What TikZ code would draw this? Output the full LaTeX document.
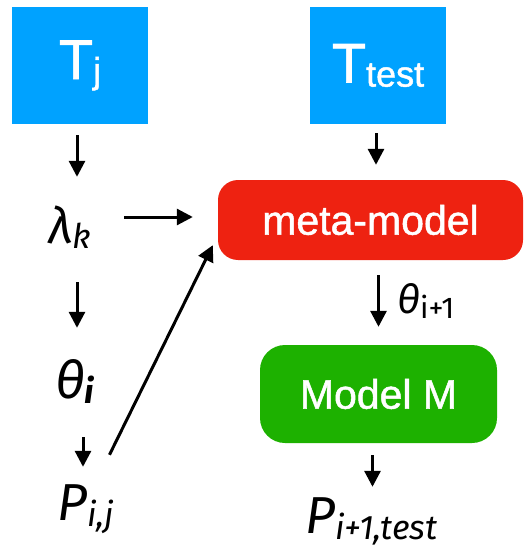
\documentclass[tikz,border=0pt]{standalone}
\usepackage{fontspec}
\setmainfont{Liberation Sans}
\newfontfamily\boxfont[FakeBold=1.2]{Liberation Sans}
\newfontfamily\mfont{Fira Sans}
\usetikzlibrary{arrows.meta,calc}
\definecolor{tblue}{HTML}{00A2FF}
\definecolor{mred}{HTML}{EE2211}
\definecolor{mgreen}{HTML}{1DB100}
\newcommand{\fs}[1]{\fontsize{#1}{#1}\selectfont}
\begin{document}
\begin{tikzpicture}[x=1pt,y=-1pt,
  arr/.style={line width=3pt,-{Triangle[width=16pt,length=16pt]}},
  tbox/.style={fill=tblue,minimum width=136pt,minimum height=117pt,inner sep=0pt,text=white,font=\boxfont},
  rbox/.style={rounded corners=#1,inner sep=0pt,text=white,font=\boxfont\fs{41}},
  mtext/.style={anchor=base west,inner sep=0pt}
]
\useasboundingbox (0,0) rectangle (524,548);
\node[tbox] (tj) at (80,65.5) {\fs{56}T\raisebox{-4pt}{\fs{36}j}};
\node[tbox] (ttest) at (378,65.5) {\fs{56}T\raisebox{-4pt}{\fs{36}test}};
\node[rbox=20pt,fill=mred,minimum width=305pt,minimum height=80pt] (meta) at (370.5,220) {meta-model};
\node[rbox=25pt,fill=mgreen,minimum width=237pt,minimum height=98pt] (model) at (378.5,394) {Model M};
\node[mtext,text height=38pt,text depth=6pt] (lam) at (48,243) {\mfont\itshape\fs{50}λ\raisebox{-5pt}{\fs{34}k}};
\node[mtext,text height=41pt,text depth=4pt] (theta) at (55,398) {\mfont\itshape\fs{52}θ\raisebox{-5pt}{\fs{34}\bfseries i}};
\node[mtext,text height=37pt,text depth=9pt] (pij) at (57,520) {\mfont\itshape\fs{52}P\raisebox{-6pt}{\fs{34}i,j}};
\node[mtext] (thn) at (397,313) {\mfont\fs{40}\itshape θ\upshape\raisebox{-5pt}{\fs{30}i+1}};
\node[mtext,text height=36pt,text depth=9pt] (ptest) at (305,533) {\mfont\itshape\fs{52}P\raisebox{-6pt}{\fs{34}i+1,test}};
\draw[arr,shorten <=11pt,shorten >=28pt] ([xshift=-3pt]tj.south) -- ([xshift=-3pt]tj.south |- lam.north);
\draw[arr,shorten <=33pt,shorten >=29pt] ([xshift=-3pt]tj.south |- lam.south) -- ([xshift=-3pt]tj.south |- theta.north);
\draw[arr,shorten <=35pt,shorten >=16pt] ([xshift=3pt]tj.south |- theta.south) -- ([xshift=3pt]tj.south |- pij.north);
\draw[arr,shorten <=33pt,shorten >=25pt] ([yshift=3pt]meta.west -| lam.east) -- ([yshift=3pt]meta.west);
\draw[arr] ([xshift=-5pt,yshift=28pt]pij.north east) -- ([xshift=-5pt,yshift=15pt]meta.south west);
\draw[arr,shorten <=9pt,shorten >=15pt] ([xshift=-2pt]ttest.south) -- ([xshift=-2pt]ttest.south |- meta.north);
\draw[arr,shorten <=15pt,shorten >=18pt] (meta.south -| model.north) -- (model.north);
\draw[arr,shorten <=12pt,shorten >=10pt] ([xshift=-6pt]model.south) -- ([xshift=-6pt]model.south |- ptest.north);
\end{tikzpicture}
\end{document}
